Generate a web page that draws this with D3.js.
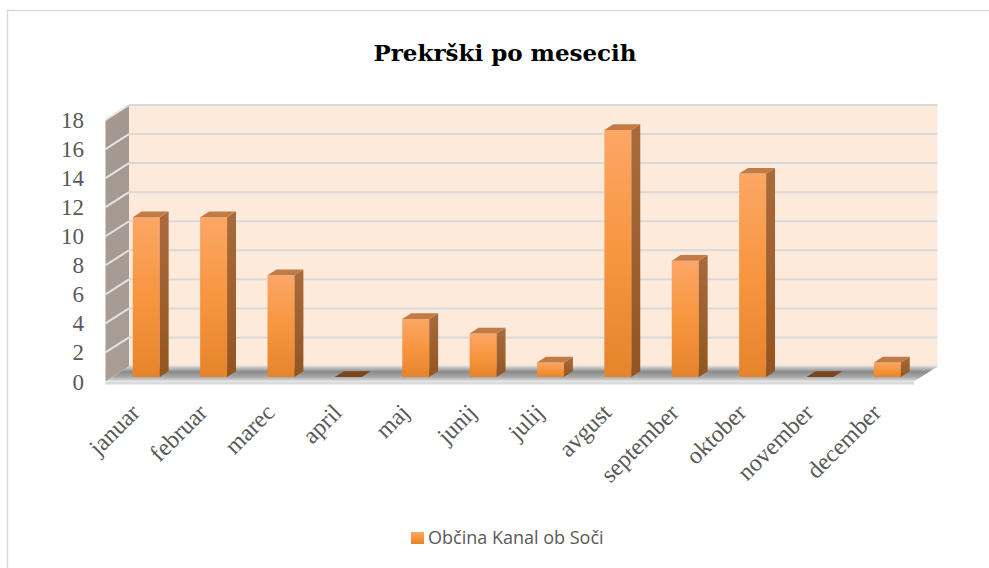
<!DOCTYPE html>
<html lang="sl">
<head>
<meta charset="UTF-8" />
<title>Prekrški po mesecih</title>
<script src="https://d3js.org/d3.v7.min.js"></script>
<style>
  body { margin: 0; background: #fff; }
  text { fill: #595959; }
</style>
</head>
<body>
<div class="canvas"></div>
<script>
const months = ["januar", "februar", "marec", "april", "maj", "junij",
                "julij", "avgust", "september", "oktober", "november", "december"];
const counts = [11, 11, 7, 0, 4, 3, 1, 17, 8, 14, 0, 1];
const yTicks = [0, 2, 4, 6, 8, 10, 12, 14, 16, 18];
const seriesName = "Občina Kanal ob Soči";
const title = "Prekrški po mesecih";

const width = 989, height = 568;
// front edge of the floor and the depth vector of the 3d box
const fx0 = 105.5, fx1 = 914, fy0 = 381.5;
const depth = [23.5, -15];
const t0 = 0.3, t1 = 0.68; // bar front/back inside the box

const svg = d3.select(".canvas").append("svg")
  .attr("width", width).attr("height", height);

const defs = svg.append("defs");
function grad(id, stops) {
  const g = defs.append("linearGradient").attr("id", id)
    .attr("x1", 0).attr("y1", 0).attr("x2", 0).attr("y2", 1);
  stops.forEach(([o, c]) => g.append("stop").attr("offset", o).attr("stop-color", c));
}
grad("front", [[0, "#fba766"], [0.5, "#f8953f"], [1, "#e6842c"]]);
grad("side", [[0, "#a96b3c"], [1, "#93551f"]]);
grad("floor", [[0, "#d6d6d6"], [0.35, "#8a8a8a"], [0.7, "#a8a8a8"], [1, "#e6e6e6"]]);
grad("sidewall", [[0, "#a39890"], [1, "#a89e96"]]);

const x = d3.scaleBand().domain(months).range([fx0, fx1])
  .paddingInner(0.6).paddingOuter(0.3);
const y = d3.scaleLinear().domain([0, 18]).range([0, 261.5]);

const P = (px, v, t) => [px + t * depth[0], fy0 - y(v) + t * depth[1]];
const poly = pts => pts.map(p => p.join(",")).join(" ");

// chart border
svg.append("rect").attr("x", 7.5).attr("y", 10.5)
  .attr("width", 1000).attr("height", 600)
  .attr("fill", "none").attr("stroke", "#d9d9d9").attr("stroke-width", 1.5);

svg.append("text").attr("x", 505).attr("y", 61)
  .attr("text-anchor", "middle")
  .style("font", "bold 23px 'DejaVu Serif', serif")
  .style("fill", "#000")
  .text(title);

const g = svg.append("g");

// back wall
g.append("polygon")
  .attr("points", poly([P(fx0, 0, 1), P(fx1, 0, 1), P(fx1, 18, 1), P(fx0, 18, 1)]))
  .attr("fill", "#fdeada");
// side wall
g.append("polygon")
  .attr("points", poly([P(fx0, 0, 0), P(fx0, 0, 1), P(fx0, 18, 1), P(fx0, 18, 0)]))
  .attr("fill", "url(#sidewall)");

// gridlines
g.selectAll(".grid").data(yTicks).enter().append("line")
  .attr("x1", d => P(fx0, d, 1)[0]).attr("y1", d => P(fx0, d, 1)[1])
  .attr("x2", d => P(fx1, d, 1)[0]).attr("y2", d => P(fx1, d, 1)[1])
  .attr("stroke", "#d9d9d9").attr("stroke-width", 2);
g.selectAll(".sgrid").data(yTicks.filter(d => d > 0)).enter().append("line")
  .attr("x1", d => P(fx0, d, 0)[0]).attr("y1", d => P(fx0, d, 0)[1])
  .attr("x2", d => P(fx0, d, 1)[0]).attr("y2", d => P(fx0, d, 1)[1])
  .attr("stroke", "#e6e2de").attr("stroke-width", 2);

// floor
g.append("polygon")
  .attr("points", poly([P(fx0, 0, 0), P(fx1, 0, 0), P(fx1, 0, 1), P(fx0, 0, 1)]))
  .attr("fill", "url(#floor)");
g.append("polygon")
  .attr("points", poly([P(fx0, 0, 0), P(fx1, 0, 0),
    [P(fx1, 0, 0)[0], P(fx1, 0, 0)[1] + 3], [P(fx0, 0, 0)[0], P(fx0, 0, 0)[1] + 3]]))
  .attr("fill", "#dadada");

// bars
const data = months.map((m, i) => ({ m, v: counts[i] }));
const bars = g.selectAll(".bar").data(data).enter().append("g");

bars.filter(d => d.v > 0).append("rect")
  .attr("x", d => P(x(d.m), 0, t0)[0])
  .attr("y", d => P(x(d.m), d.v, t0)[1])
  .attr("width", x.bandwidth())
  .attr("height", d => y(d.v))
  .attr("fill", "url(#front)");
bars.filter(d => d.v > 0).append("polygon")
  .attr("points", d => {
    const bx = x(d.m) + x.bandwidth();
    return poly([P(bx, 0, t0), P(bx, d.v, t0), P(bx, d.v, t1), P(bx, 0, t1)]);
  })
  .attr("fill", "url(#side)");
bars.append("polygon")
  .attr("points", d => {
    const bx = x(d.m), bw = x.bandwidth();
    return poly([P(bx, d.v, t0), P(bx + bw, d.v, t0), P(bx + bw, d.v, t1), P(bx, d.v, t1)]);
  })
  .attr("fill", d => d.v > 0 ? "#c27b47" : "#7a4620");

// y labels
svg.selectAll(".ylab").data(yTicks).enter().append("text")
  .attr("x", 84).attr("y", d => P(fx0, d, 0)[1])
  .attr("text-anchor", "end").attr("dy", "0.35em")
  .style("font", "23px 'Liberation Serif', serif")
  .text(d => d);

// x labels
svg.selectAll(".xlab").data(months).enter().append("text")
  .attr("transform", d => `translate(${x(d) + x.bandwidth() / 2 + 2},414) rotate(-45)`)
  .attr("text-anchor", "end")
  .style("font", "24px 'Liberation Serif', serif")
  .text(d => d);

// legend
const lg = svg.append("g").attr("transform", "translate(411,532)");
lg.append("rect").attr("width", 13).attr("height", 12).attr("fill", "url(#front)");
lg.append("text").attr("x", 17).attr("y", 12)
  .style("font", "18px 'Open Sans', sans-serif")
  .text(seriesName);
</script>
</body>
</html>
